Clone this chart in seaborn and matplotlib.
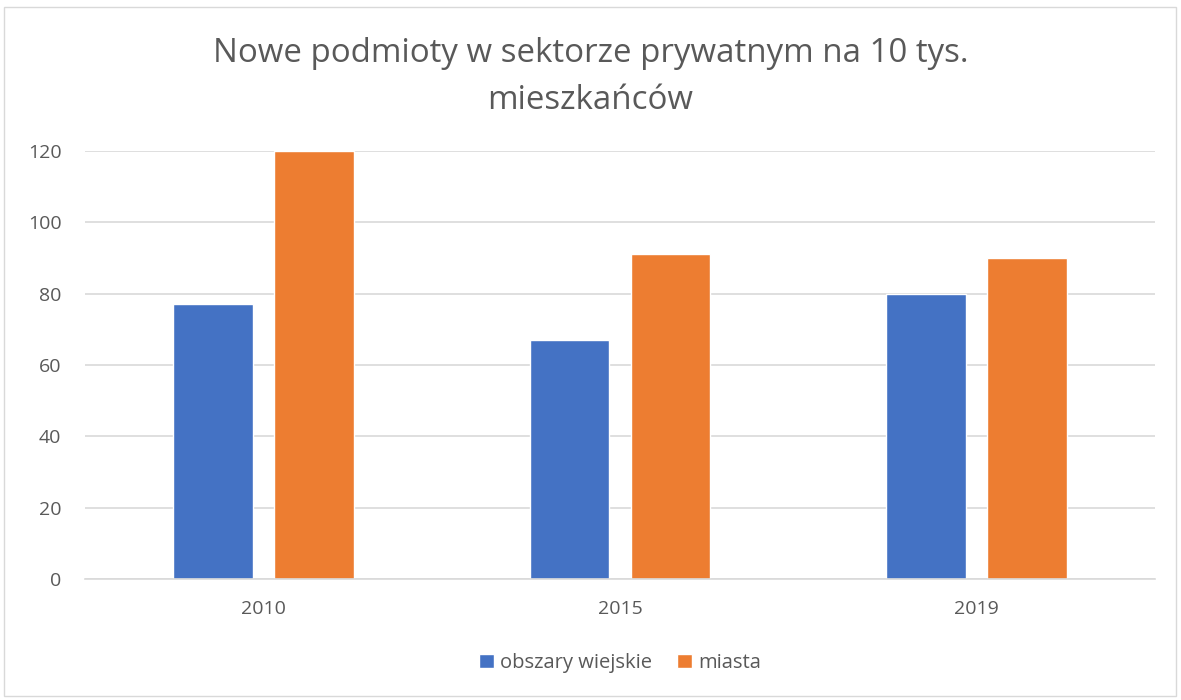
import pandas as pd
import matplotlib.pyplot as plt
import seaborn as sns
from matplotlib.patches import Rectangle

# Data
years = ['2010', '2015', '2019']
rural = [77, 67, 80]
urban = [120, 91, 90]
series_names = ['obszary wiejskie', 'miasta']

df = pd.DataFrame({
    'rok': years * 2,
    'wartosc': rural + urban,
    'typ': [series_names[0]] * 3 + [series_names[1]] * 3,
})

sns.set_style('white')
plt.rcParams['font.family'] = ['Open Sans', 'DejaVu Sans']
text_color = '#595959'

fig = plt.figure(figsize=(11.81, 7.0), dpi=100)
ax = fig.add_axes([85 / 1181, 1 - 579 / 700, 1070 / 1181, 428 / 700])

sns.barplot(data=df, x='rok', y='wartosc', hue='typ', ax=ax,
            palette=['#4472C4', '#ED7D31'], width=0.566, gap=0.21,
            saturation=1, legend=True)

ax.set_ylim(0, 120)
ax.set_xlim(-0.5, 2.5)
ax.set_yticks(range(0, 121, 20))
ax.yaxis.grid(True, color='#d9d9d9', linewidth=1.2)
ax.set_axisbelow(True)
for s in ['top', 'right', 'left']:
    ax.spines[s].set_visible(False)
ax.spines['bottom'].set_color('#d9d9d9')
ax.spines['bottom'].set_linewidth(1.2)
ax.tick_params(axis='both', length=0, labelsize=14, colors=text_color)
ax.tick_params(axis='y', pad=17)
ax.tick_params(axis='x', pad=15)
ax.set_xlabel('')
ax.set_ylabel('')

fig.text(0.5, 1 - 77 / 700, 'Nowe podmioty w sektorze prywatnym na 10 tys.\nmieszkańców',
         ha='center', va='center', fontsize=23.8, color=text_color, linespacing=1.55)

ax.legend(loc='center', bbox_to_anchor=(0.5, -(663 - 579) / 428), ncol=2,
          frameon=False, fontsize=14.5, labelcolor=text_color,
          handlelength=0.75, handleheight=0.75, handletextpad=0.3, columnspacing=1.2)

fig.patches.append(Rectangle((4 / 1181, 1 - 696 / 700), 1172 / 1181, 689 / 700,
                             transform=fig.transFigure, fill=False,
                             edgecolor='#d9d9d9', linewidth=1))

fig.savefig('out.png', dpi=100)
